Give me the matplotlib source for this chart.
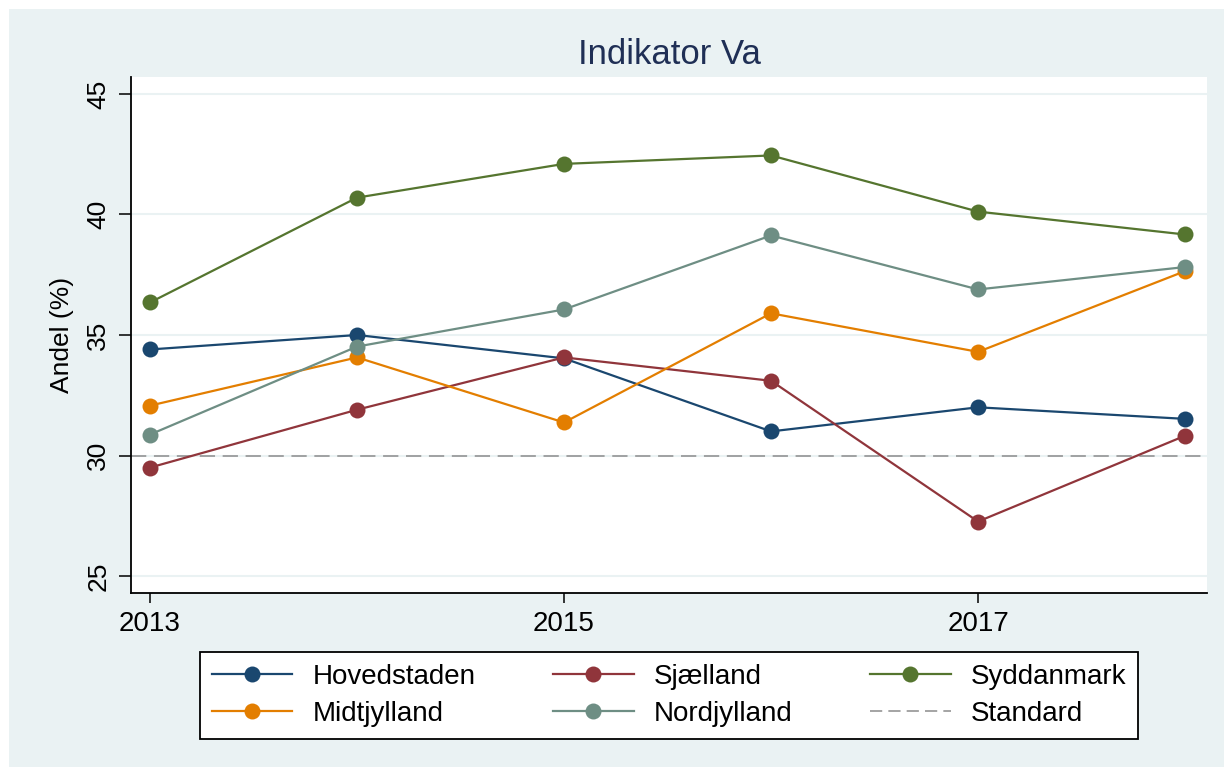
import matplotlib
matplotlib.use("Agg")
import matplotlib.pyplot as plt
from matplotlib.patches import Rectangle
from matplotlib.lines import Line2D

plt.rcParams['font.family'] = ['Liberation Sans', 'DejaVu Sans']

years = [2013, 2014, 2015, 2016, 2017, 2018]
hovedstaden = [34.40, 35.00, 34.03, 31.00, 32.00, 31.52]
sjaelland = [29.50, 31.90, 34.07, 33.10, 27.26, 30.82]
syddanmark = [36.35, 40.70, 42.10, 42.45, 40.12, 39.17]
midtjylland = [32.07, 34.07, 31.37, 35.90, 34.30, 37.65]
nordjylland = [30.87, 34.52, 36.06, 39.13, 36.89, 37.82]
standard = 30
series_names = ["Hovedstaden", "Sjælland", "Syddanmark", "Midtjylland", "Nordjylland"]
series_values = [hovedstaden, sjaelland, syddanmark, midtjylland, nordjylland]
series_colors = ["#1A476F", "#90353B", "#55752F", "#E37E00", "#6E8E84"]
x_ticks = [2013, 2015, 2017]
y_ticks = [25, 30, 35, 40, 45]

W, H = 1224, 767
fig = plt.figure(figsize=(W / 100, H / 100), dpi=100)
fig.patch.set_facecolor("white")
fig.patches.append(Rectangle((9 / W, 0), 1 - 9 / W, 1 - 9 / H, transform=fig.transFigure,
                             facecolor="#EAF2F3", edgecolor="none", zorder=-10))

ax = fig.add_axes([131 / W, 1 - 593 / H, (1207 - 131) / W, (593 - 77) / H])
ax.set_facecolor("white")
ax.set_xlim(2012.908, 2018.106)
ax.set_ylim(24.295, 45.705)

for y in y_ticks:
    ax.axhline(y, color="#EAF2F3", lw=1.5, zorder=0)

ax.plot([ax.get_xlim()[0], ax.get_xlim()[1]], [standard, standard], color="#8C8C8C",
        lw=1.1, dashes=[10, 5], zorder=1)

for name, vals, c in zip(series_names, series_values, series_colors):
    ax.plot(years, vals, color=c, lw=1.6, marker="o", markersize=11.5,
            markeredgewidth=0, zorder=3)

for s in ["top", "right"]:
    ax.spines[s].set_visible(False)
for s in ["left", "bottom"]:
    ax.spines[s].set_linewidth(1.3)
    ax.spines[s].set_color("black")

ax.set_xticks(x_ticks)
ax.set_yticks(y_ticks)
ax.tick_params(axis="x", length=7, width=1.1, labelsize=20, pad=6)
ax.tick_params(axis="y", length=9, width=1.1, labelsize=19, pad=6)
for lab in ax.get_yticklabels():
    lab.set_rotation(90)
    lab.set_va("center")

fig.text(62 / W, 1 - 335 / H, "Andel (%)", rotation=90, ha="center", va="center",
         fontsize=19, color="black")
fig.text(669 / W, 1 - 54 / H, "Indikator Va", ha="center", va="center",
         fontsize=25, color="#1F2F55")

def h(c, dashed=False):
    if dashed:
        return Line2D([], [], color="#8C8C8C", lw=1.1, dashes=[8, 4])
    return Line2D([], [], color=c, lw=1.6, marker="o", markersize=11.5, markeredgewidth=0)

handles = {n: h(c) for n, c in zip(series_names, series_colors)}
handles["Standard"] = h(None, dashed=True)
order = ["Hovedstaden", "Midtjylland", "Sjælland", "Nordjylland", "Syddanmark", "Standard"]
leg = fig.legend([handles[o] for o in order], order, ncol=3,
                 loc="center", bbox_to_anchor=(669 / W, 1 - 695.5 / H),
                 fontsize=20, frameon=True, fancybox=False,
                 handlelength=2.9, handletextpad=0.72, columnspacing=2.8,
                 labelspacing=0.41, borderpad=0.42, borderaxespad=0)
leg.get_frame().set_edgecolor("black")
leg.get_frame().set_linewidth(1.3)
leg.get_frame().set_facecolor("white")
leg.get_frame().set_alpha(1)

fig.savefig("out.png", dpi=100)
